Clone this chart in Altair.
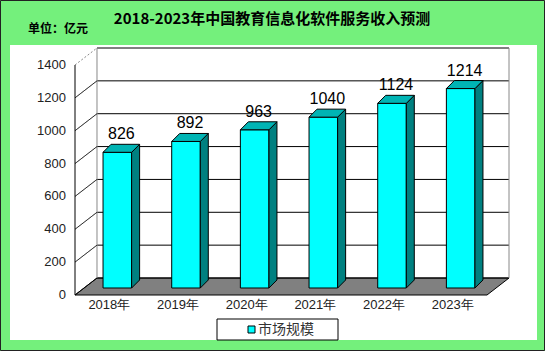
import altair as alt
import pandas as pd

# ---- data ----
categories = ["2018年", "2019年", "2020年", "2021年", "2022年", "2023年"]
values = [826, 892, 963, 1040, 1124, 1214]
y_ticks = [0, 200, 400, 600, 800, 1000, 1200, 1400]
title_text = "2018-2023年中国教育信息化软件服务收入预测"
unit_text = "单位：亿元"
legend_label = "市场规模"

# ---- 3D geometry (pixel offsets converted into data units) ----
CAT_PX = 68.7
VAL_PX = 230 / 1400
BACK_DX = 22 / CAT_PX
BACK_DY = 17 / VAL_PX
BAR_OX = 8 / CAT_PX
BAR_OY = 7 / VAL_PX
BAR_DX = 8 / CAT_PX
BAR_DY = 8 / VAL_PX
BAR_HALF = 14.3 / CAT_PX
N = len(categories)
XMAX = N + BACK_DX
YMAX = 1400 + BACK_DY
W = int(round(XMAX * CAT_PX))
H = int(round(YMAX * VAL_PX))

xs = alt.Scale(domain=[0, XMAX], zero=False, nice=False)
ys = alt.Scale(domain=[0, YMAX], zero=False, nice=False)

CJK = "Noto Sans CJK SC"
LAT = "Liberation Sans"

# floor
floor = pd.DataFrame({"y": [0, BACK_DY], "x": [0, BACK_DX], "x2": [N, N + BACK_DX]})
# back-wall gridlines and left-wall diagonals
grid = pd.DataFrame({"v": y_ticks})
grid["yb"] = grid["v"] + BACK_DY
grid["x0"] = BACK_DX
grid["x1"] = N + BACK_DX
grid["zx"] = 0.0
grid["top"] = grid["v"] == 1400

# bars
bars = pd.DataFrame({"cat": categories, "value": values})
bars["c"] = [i + 0.5 + BAR_OX for i in range(N)]
bars["l"] = bars["c"] - BAR_HALF
bars["r"] = bars["c"] + BAR_HALF
bars["b"] = BAR_OY
bars["t"] = bars["value"] + BAR_OY
bars["lc"] = bars["c"] + BAR_DX / 2
bars["lt"] = bars["t"] + BAR_DY

side_rows, top_rows = [], []
for _, r in bars.iterrows():
    side_rows.append({"cat": r["cat"], "x": r["r"], "y": r["t"], "y2": r["b"]})
    side_rows.append({"cat": r["cat"], "x": r["r"] + BAR_DX, "y": r["t"] + BAR_DY, "y2": r["b"] + BAR_DY})
    top_rows.append({"cat": r["cat"], "y": r["t"], "x": r["l"], "x2": r["r"]})
    top_rows.append({"cat": r["cat"], "y": r["t"] + BAR_DY, "x": r["l"] + BAR_DX, "x2": r["r"] + BAR_DX})
side = pd.DataFrame(side_rows)
top = pd.DataFrame(top_rows)

xlab = pd.DataFrame({"cat": categories, "x": [i + 0.5 for i in range(N)], "y": [0] * N})

# ---- decoration: white panel + outer frame ----
panel = alt.Chart(pd.DataFrame({"a": [0]})).mark_rect(fill="white").encode(
    x=alt.value(10 - 75), x2=alt.value(537 - 75), y=alt.value(45 - 48), y2=alt.value(340 - 48)
)
frame = alt.Chart(pd.DataFrame({"a": [0]})).mark_rect(fill=None, stroke="#222222", strokeWidth=1).encode(
    x=alt.value(-74.5), x2=alt.value(469.5), y=alt.value(-47.5), y2=alt.value(302.5)
)

floor_l = alt.Chart(floor).mark_area(orient="horizontal", color="#808080", stroke="black", strokeWidth=1).encode(
    y=alt.Y("y:Q", scale=ys, axis=None),
    x=alt.X("x:Q", scale=xs, axis=None),
    x2="x2:Q",
)

back_lines = alt.Chart(grid).mark_rule(color="black", strokeWidth=1).encode(
    x=alt.X("x0:Q", scale=xs, axis=None), x2="x1:Q", y=alt.Y("yb:Q", scale=ys, axis=None)
)
back_edges = alt.Chart(pd.DataFrame({"x": [BACK_DX, N + BACK_DX], "y": [BACK_DY, BACK_DY], "y2": [YMAX, YMAX]})).mark_rule(
    color="#888888", strokeWidth=1
).encode(x=alt.X("x:Q", scale=xs, axis=None), y=alt.Y("y:Q", scale=ys, axis=None), y2="y2:Q")

diag = alt.Chart(grid).mark_rule(strokeWidth=1).encode(
    x=alt.X("zx:Q", scale=xs, axis=None), x2="x0:Q",
    y=alt.Y("v:Q", scale=ys, axis=None), y2="yb:Q",
    color=alt.condition("datum.top", alt.value("#888888"), alt.value("black")),
    strokeDash=alt.condition("datum.top", alt.value([2, 2]), alt.value([1, 0])),
)

front_axis = alt.Chart(pd.DataFrame({"x": [0], "y": [0], "y2": [1400]})).mark_rule(color="black", strokeWidth=1).encode(
    x=alt.X("x:Q", scale=xs, axis=None), y=alt.Y("y:Q", scale=ys, axis=None), y2="y2:Q"
)

ylabels = alt.Chart(grid).mark_text(font=LAT, fontSize=13, color="#222222", align="right", baseline="middle", dx=-9).encode(
    x=alt.X("zx:Q", scale=xs, axis=None), y=alt.Y("v:Q", scale=ys, axis=None), text="v:Q"
)

front = alt.Chart(bars).mark_rect(color="#00FFFF", stroke="black", strokeWidth=1).encode(
    x=alt.X("l:Q", scale=xs, axis=None), x2="r:Q", y=alt.Y("b:Q", scale=ys, axis=None), y2="t:Q"
)
side_l = alt.Chart(side).mark_area(color="#008080", stroke="black", strokeWidth=1).encode(
    x=alt.X("x:Q", scale=xs, axis=None), y=alt.Y("y:Q", scale=ys, axis=None), y2="y2:Q", detail="cat:N"
)
top_l = alt.Chart(top).mark_area(orient="horizontal", color="#00B4B4", stroke="black", strokeWidth=1).encode(
    y=alt.Y("y:Q", scale=ys, axis=None), x=alt.X("x:Q", scale=xs, axis=None), x2="x2:Q", detail="cat:N"
)

vlabels = alt.Chart(bars).mark_text(font=LAT, fontSize=16, color="black", baseline="middle", dy=-10).encode(
    x=alt.X("lc:Q", scale=xs, axis=None), y=alt.Y("lt:Q", scale=ys, axis=None), text="value:Q"
)

xlabels = alt.Chart(xlab).mark_text(font=LAT, fontSize=13, color="#222222", baseline="middle", dy=10).encode(
    x=alt.X("x:Q", scale=xs, axis=None), y=alt.Y("y:Q", scale=ys, axis=None), text="cat:N"
)

title = alt.Chart(pd.DataFrame({"t": [title_text]})).mark_text(
    font=CJK, fontSize=15, fontWeight="bold", color="black", align="center", baseline="middle"
).encode(x=alt.value(272 - 75), y=alt.value(19 - 48), text="t:N")
unit = alt.Chart(pd.DataFrame({"t": [unit_text]})).mark_text(
    font=CJK, fontSize=12, fontWeight="bold", color="black", align="left", baseline="middle"
).encode(x=alt.value(28 - 75), y=alt.value(29 - 48), text="t:N")

leg_box = alt.Chart(pd.DataFrame({"a": [0]})).mark_rect(fill="white", stroke="black", strokeWidth=1).encode(
    x=alt.value(217 - 75), x2=alt.value(338 - 75), y=alt.value(319 - 48), y2=alt.value(340 - 48)
)
leg_sq = alt.Chart(pd.DataFrame({"a": [0]})).mark_rect(fill="#00FFFF", stroke="black", strokeWidth=1).encode(
    x=alt.value(248 - 75), x2=alt.value(255 - 75), y=alt.value(326 - 48), y2=alt.value(333 - 48)
)
leg_txt = alt.Chart(pd.DataFrame({"t": [legend_label]})).mark_text(
    font=CJK, fontSize=14, color="#333333", align="left", baseline="middle"
).encode(x=alt.value(258 - 75), y=alt.value(330 - 48), text="t:N")

chart = alt.layer(
    panel, floor_l, back_lines, back_edges, diag, front, side_l, top_l, front_axis, ylabels,
    vlabels, xlabels, title, unit, leg_box, leg_sq, leg_txt, frame
).properties(
    width=W, height=H, background="#74F07C",
    autosize=alt.AutoSizeParams(type="none"),
    padding={"left": 75, "top": 48, "right": 545 - 75 - W, "bottom": 351 - 48 - H},
).configure_view(stroke=None)

chart.save("out.html", embed_options={"renderer": "svg", "actions": False})
